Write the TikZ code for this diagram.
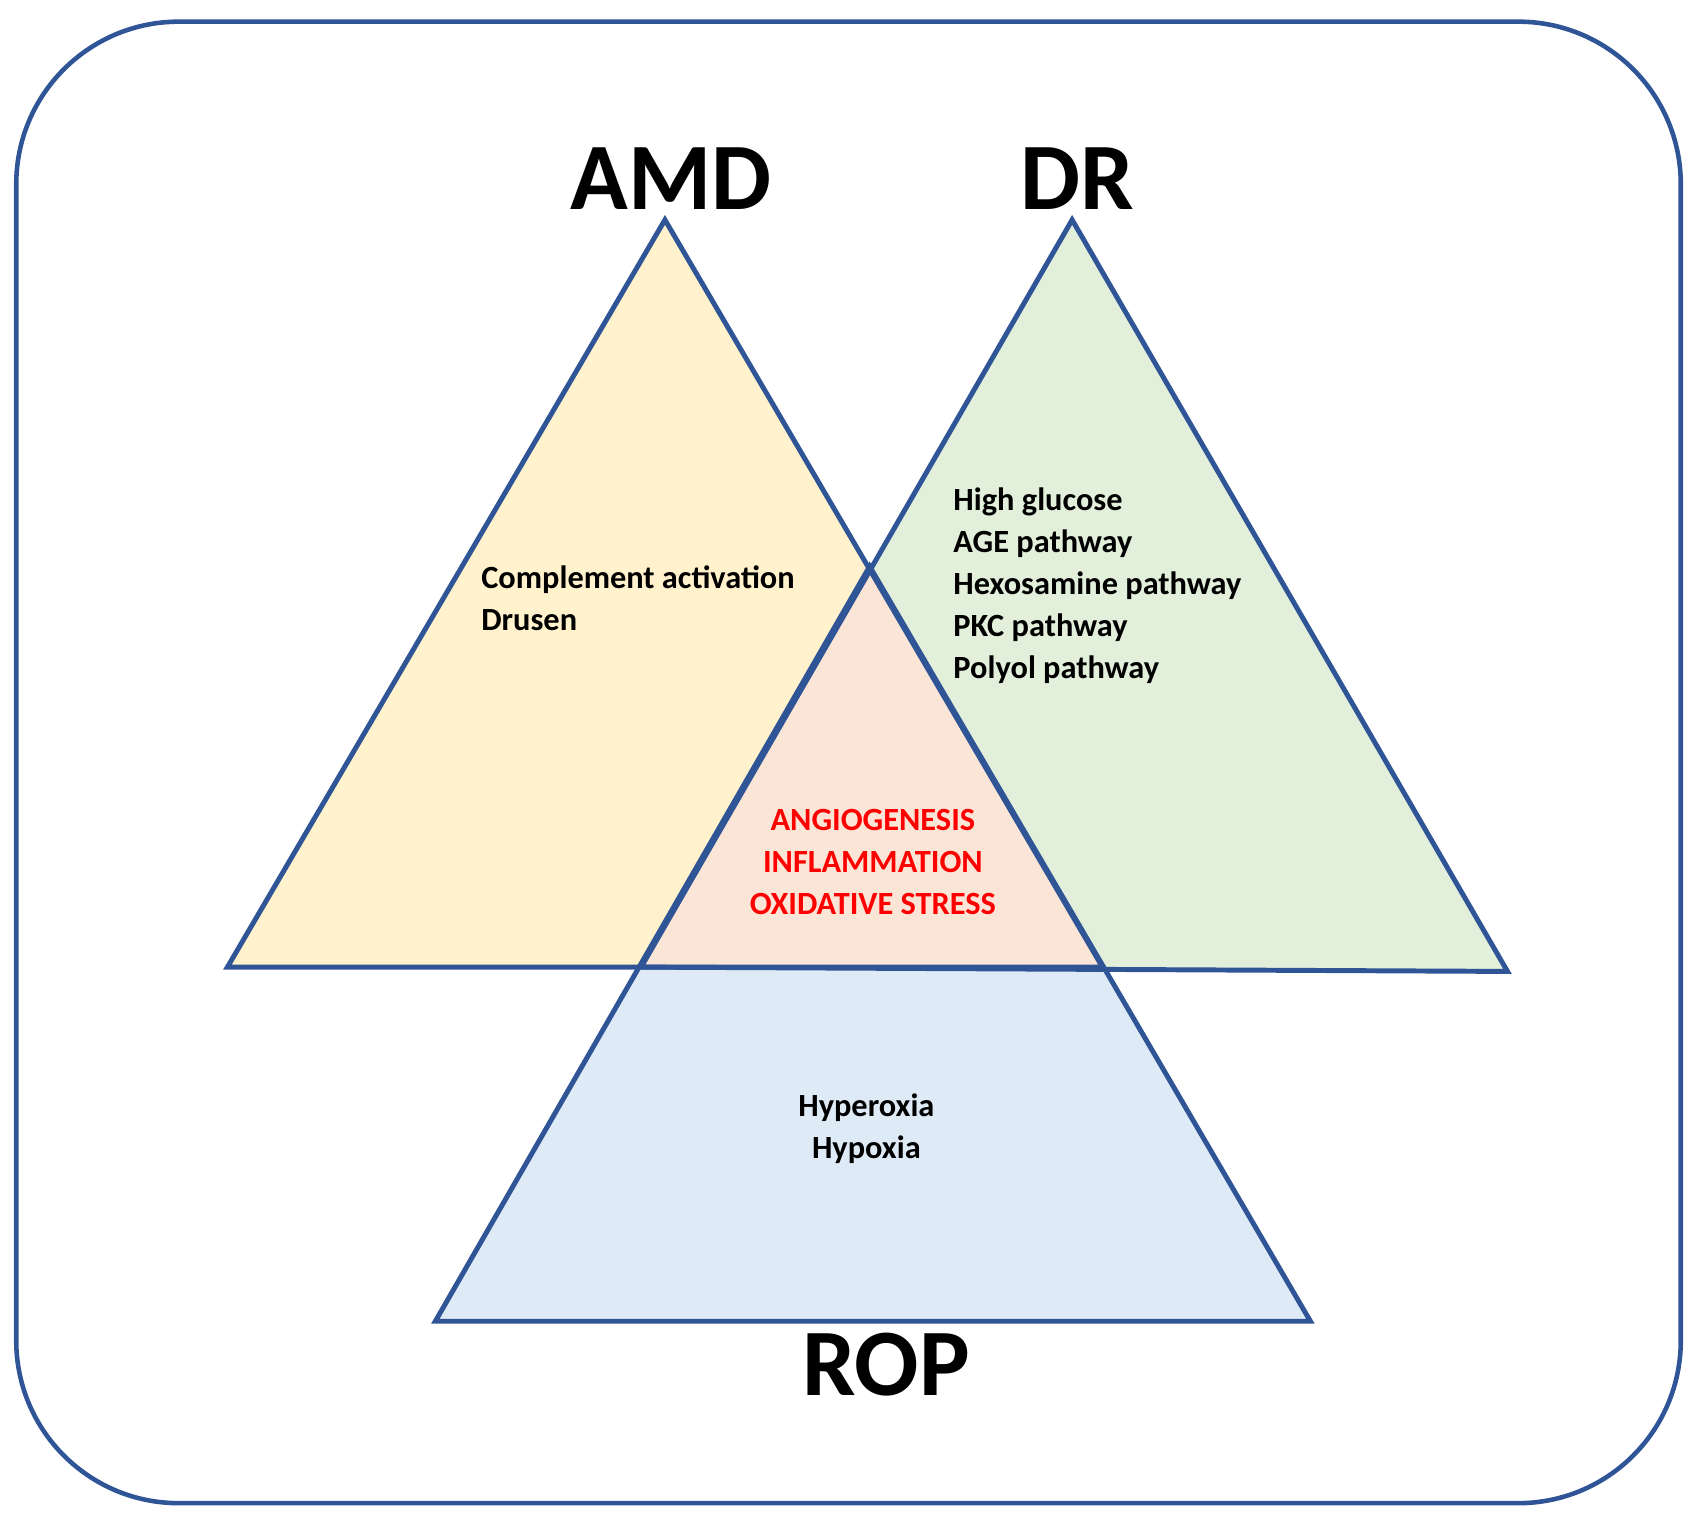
\documentclass[tikz,border=0pt]{standalone}
\usepackage{fontspec}
\setmainfont{Carlito}
\usetikzlibrary{positioning}
\definecolor{edgeblue}{HTML}{2F5597}
\definecolor{amdfill}{HTML}{FFF2CC}
\definecolor{drfill}{HTML}{E2EFDA}
\definecolor{ropfill}{HTML}{DEEBF7}
\definecolor{corefill}{HTML}{FBE5D6}
\definecolor{corered}{HTML}{FF0000}
\begin{document}
\begin{tikzpicture}[x=0.01cm,y=-0.01cm,
    tri/.style={draw=edgeblue,line width=1.3pt,line join=miter},
    title/.style={font=\fontsize{25}{28}\selectfont\bfseries},
    item/.style={font=\fontsize{8.5}{11}\selectfont\bfseries,align=left}]
    \useasboundingbox (0,0) rectangle (1567,1406);

    \draw[draw=edgeblue,line width=1.2pt,rounded corners=1.5cm] (15,20) rectangle (1552,1388);

    \coordinate (amdtop) at (614,203);
    \coordinate (drtop) at (990,203);
    \coordinate (roptop) at (803,523);
    \coordinate (amdl) at (210,893);
    \coordinate (amdr) at (1018,893);
    \coordinate (drl) at (592,893);
    \coordinate (drr) at (1392,897);
    \coordinate (ropl) at (402,1220);
    \coordinate (ropr) at (1210,1220);

    \fill[ropfill] (roptop) -- (ropl) -- (ropr) -- cycle;
    \fill[amdfill] (amdtop) -- (amdl) -- (amdr) -- cycle;
    \fill[drfill] (drtop) -- (drl) -- (drr) -- cycle;
    \fill[corefill] (roptop) -- (drl) -- (amdr) -- cycle;
    \draw[tri] (roptop) -- (ropl) -- (ropr) -- cycle;
    \draw[tri] (amdtop) -- (amdl) -- (amdr) -- cycle;
    \draw[tri] (drtop) -- (drl) -- (drr) -- cycle;

    \node[title] (amd) at (620,165) {AMD};
    \node[title] (dr) at (995,165) {DR};
    \node[title] (rop) at (818,1260) {ROP};

    \node[item,anchor=north west] (amdtext) at (432,510) {Complement activation\\Drusen};
    \node[item,anchor=north west] (drtext) at (868,438) {High glucose\\AGE pathway\\Hexosamine pathway\\PKC pathway\\Polyol pathway};
    \node[item,align=center] (roptext) at (800,1042) {Hyperoxia\\Hypoxia};
    \node[item,align=center,text=corered] (coretext) at (806,796) {ANGIOGENESIS\\INFLAMMATION\\OXIDATIVE STRESS};
\end{tikzpicture}
\end{document}
